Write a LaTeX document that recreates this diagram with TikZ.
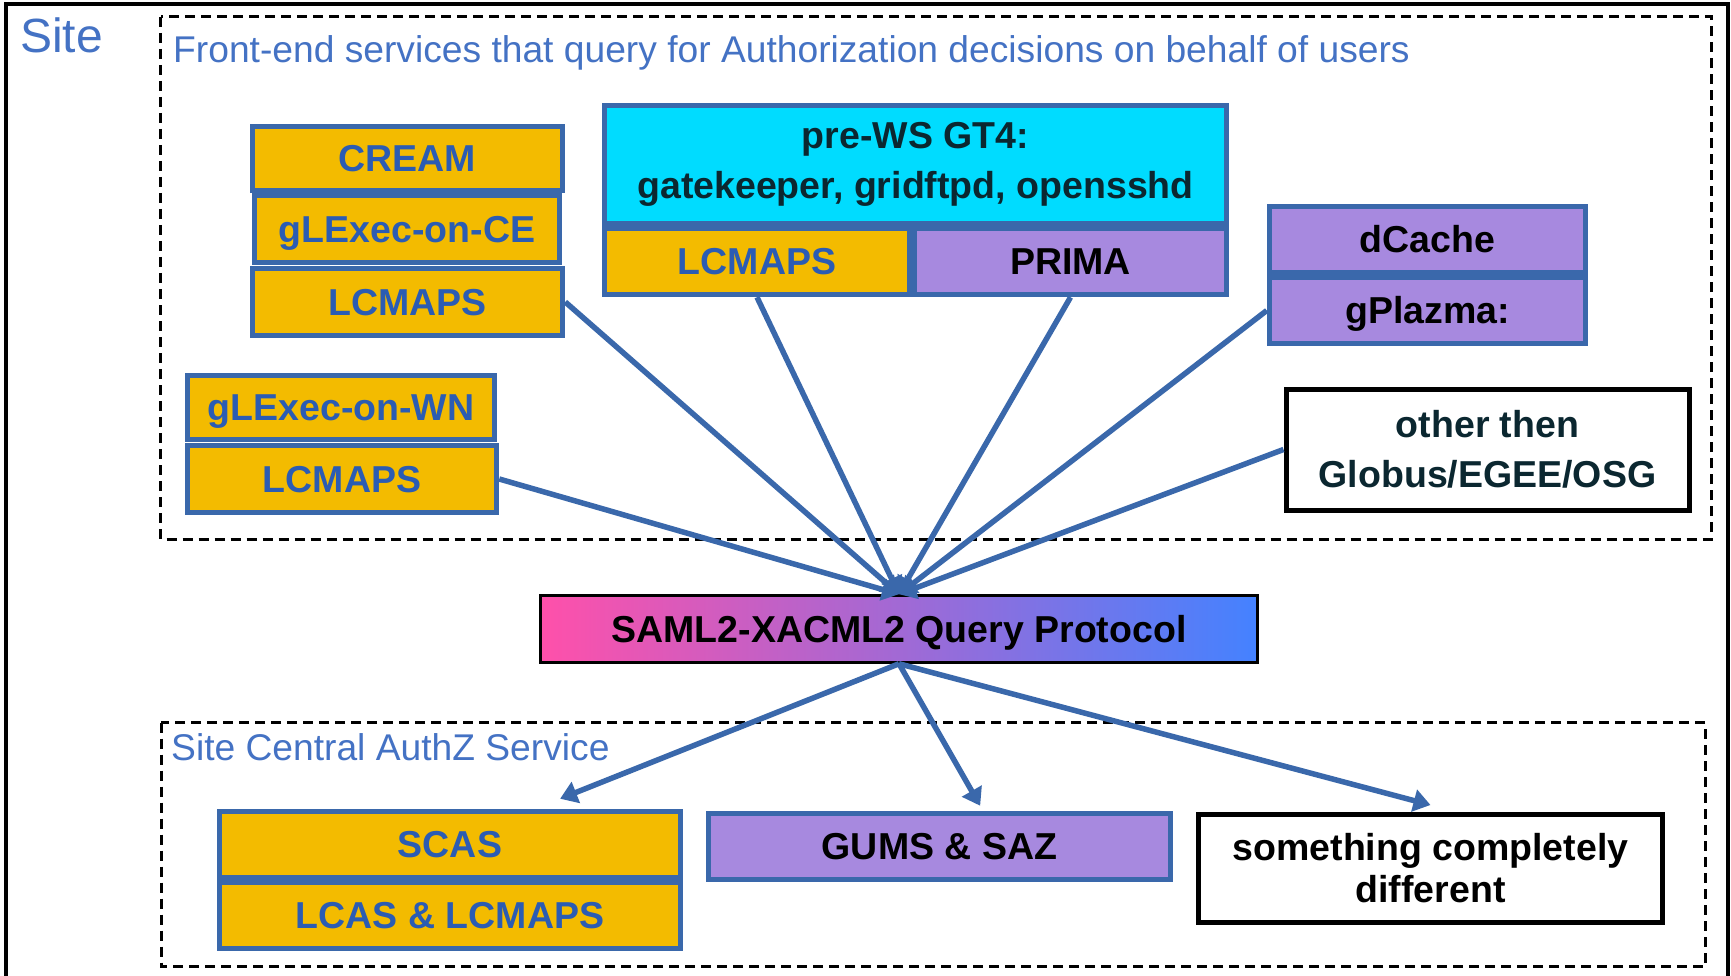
\documentclass[tikz,border=0pt]{standalone}
\usepackage{fontspec}
\setmainfont{Liberation Sans}
\usetikzlibrary{arrows.meta,calc}
\definecolor{gold}{HTML}{F3BB00}
\definecolor{bordblue}{HTML}{3A68AB}
\definecolor{lilac}{HTML}{A789DF}
\definecolor{cyanbox}{HTML}{00DCFF}
\definecolor{goldtext}{HTML}{2B5CB3}
\definecolor{labelblue}{HTML}{4472C4}
\definecolor{darktext}{HTML}{0B2730}
\definecolor{pinkend}{HTML}{FF50AA}
\definecolor{blueend}{HTML}{4482FF}
\begin{document}
\begin{tikzpicture}[x=1pt,y=-1pt,
  basebox/.style={inner sep=0pt, font=\fontsize{37.5}{50}\selectfont\bfseries},
  oneline/.style={text height=26.8pt, text depth=0pt},
  goldbox/.style={basebox, oneline, draw=bordblue, line width=5.5pt, fill=gold, text=goldtext},
  lilacbox/.style={basebox, oneline, draw=bordblue, line width=5.5pt, fill=lilac, text=black},
  cyanstyle/.style={basebox, draw=bordblue, line width=5.5pt, fill=cyanbox, text=darktext, align=center},
  plainbox/.style={basebox, draw=black, line width=5pt, fill=white, align=center},
  link/.style={draw=bordblue, line width=5.5pt, -{Triangle[width=22pt,length=17pt]}},
  region/.style={draw=black, line width=3pt, dash pattern=on 10pt off 6pt},
  caption/.style={text=labelblue, inner sep=0pt, anchor=base west, font=\fontsize{37.2}{44}\selectfont}
]
\fill[white] (0,0) rectangle (1731,976);
\useasboundingbox (0,0) rectangle (1731,976);
% outer frame
\draw[black, line width=3.5pt] (6,4) rectangle (1728,1010);
\node[caption, font=\fontsize{48}{50}\selectfont] (site) at (20,53) {Site};
% regions
\draw[region] (160.5,17) rectangle (1711.5,539);
\draw[region] (161,722.5) rectangle (1705,966.5);
\node[caption] (fronttitle) at (173,62.7) {Front-end services that query for Authorization decisions on behalf of users};
\node[caption] (centraltitle) at (171,760) {Site Central AuthZ Service};
% left stack
\node[goldbox, minimum width=310pt, minimum height=64pt] (cream) at (407.5,158.5) {CREAM};
\node[goldbox, minimum width=305pt, minimum height=67pt] (glexecce) at (407,229) {gLExec-on-CE};
\node[goldbox, minimum width=310pt, minimum height=67pt] (lcmapsA) at (407.5,302) {LCMAPS};
\node[goldbox, minimum width=307pt, minimum height=64pt] (glexecwn) at (341,407.5) {gLExec-on-WN};
\node[goldbox, minimum width=309pt, minimum height=67pt] (lcmapsB) at (342,479) {LCMAPS};
% GT4
\node[cyanstyle, minimum width=622pt, minimum height=118pt] (gt4) at (915.5,164.5) {pre-WS GT4:\\gatekeeper, gridftpd, opensshd};
\node[goldbox, minimum width=305pt, minimum height=66pt] (lcmapsC) at (757,261.5) {LCMAPS};
\node[lilacbox, minimum width=312pt, minimum height=66pt] (prima) at (1070.5,261.5) {PRIMA};
% dCache
\node[lilacbox, minimum width=316pt, minimum height=66pt] (dcache) at (1427.5,239.5) {dCache};
\node[lilacbox, minimum width=316pt, minimum height=66pt] (gplazma) at (1427.5,310.5) {gPlazma:};
\node[plainbox, text=darktext, minimum width=403pt, minimum height=121pt] (other) at (1487.5,449.5) {other then\\Globus/EGEE/OSG};
% protocol
\node[basebox, oneline, draw=black, line width=2.5pt, left color=pinkend, right color=blueend, minimum width=717pt, minimum height=67pt] (saml) at (899,629) {SAML2-XACML2 Query Protocol};
% central services
\node[goldbox, minimum width=461pt, minimum height=66pt] (scas) at (450,844.5) {SCAS};
\node[goldbox, minimum width=461pt, minimum height=66pt] (lcas) at (450,915.5) {LCAS \& LCMAPS};
\node[lilacbox, minimum width=462pt, minimum height=66pt] (gums) at (939.5,846.5) {GUMS \& SAZ};
\node[plainbox, text=black, minimum width=464pt, minimum height=108pt, font=\fontsize{37.5}{42}\selectfont\bfseries] (diff) at (1430.5,868.5) {something completely\\different};
% connectors
\draw[link] (lcmapsA.east) -- (saml.north);
\draw[link] (lcmapsB.east) -- (saml.north);
\draw[link] (lcmapsC.south) -- (saml.north);
\draw[link] (prima.south) -- (saml.north);
\draw[link] (gplazma.west) -- (saml.north);
\draw[link] (other.west) -- (saml.north);
\draw[link] (saml.south) -- ($(scas.north west)!0.736!(scas.north east)+(0,-10)$);
\draw[link] (saml.south) -- ($(gums.north west)!0.587!(gums.north east)+(0,-5)$);
\draw[link] (saml.south) -- ($(diff.north)+(0,-7)$);
\end{tikzpicture}
\end{document}
